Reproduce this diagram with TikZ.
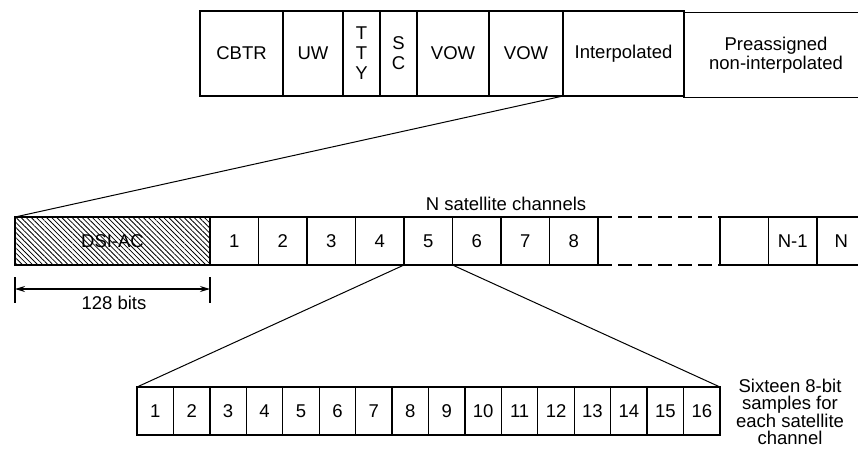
\documentclass[tikz,border=0pt]{standalone}
\usepackage{fontspec}
\setmainfont{Liberation Sans}
\usetikzlibrary{patterns.meta,arrows.meta}
\begin{document}
\begin{tikzpicture}[x=1pt,y=-1pt,
  font=\fontsize{18.5}{20}\selectfont,
  cell/.style={draw, line width=1.3pt, inner sep=0pt, outer sep=0pt, align=center},
  conn/.style={line width=1pt},
  dimline/.style={line width=1.1pt, {Stealth[length=10pt,width=6pt]}-{Stealth[length=10pt,width=6pt]}},
  lbl/.style={inner sep=0pt, align=center}]
\useasboundingbox (0,0) rectangle (858,451);
\clip (0,0) rectangle (858,451);
% top row
\begin{scope}[every node/.append style={cell, minimum height=85}]
\node[minimum width=83] (cbtr) at (241.5,53.5) {CBTR};
\node[minimum width=60] (uw) at (313,53.5) {UW};
\node[minimum width=37, font=\fontsize{18.5}{20}\selectfont] (tty) at (361.5,53.5) {T\\T\\Y};
\node[minimum width=37, font=\fontsize{18.5}{20}\selectfont] (sc) at (398.5,53.5) {S\\C};
\node[minimum width=72] (vow1) at (453,53.5) {VOW};
\node[minimum width=74] (vow2) at (526,53.5) {VOW};
\node[minimum width=121] (interp) at (623.5,53.5) {Interpolated};
\node[minimum width=184, font=\fontsize{18.5}{19}\selectfont] (pre) at (776,55) {Preassigned\\non-interpolated};
\end{scope}
% middle row
\node[cell, minimum width=195, minimum height=48,
  pattern={Lines[angle=-45,distance=3.6pt,line width=0.8pt]}] (dsi) at (112.5,241) {DSI-AC};
\foreach \i in {1,...,8}
  \node[cell, minimum width=48.5, minimum height=48] (c\i) at ({234.25+(\i-1)*48.5},241) {\i};
\node[cell, minimum width=48.5, minimum height=48] (ce) at (744.25,241) {};
\node[cell, minimum width=48.5, minimum height=48] (cn1) at (792.75,241) {N-1};
\node[cell, minimum width=48.5, minimum height=48] (cn) at (841.25,241) {N};
\draw[line width=1.3pt, dash pattern=on 14pt off 6pt] (c8.north east) -- (ce.north west);
\draw[line width=1.3pt, dash pattern=on 14pt off 6pt] (c8.south east) -- (ce.south west);
\node[lbl] (nsat) at (506,204) {N satellite channels};
% bottom row
\foreach \i in {1,...,16}
  \node[cell, minimum width=36.4375, minimum height=48] (s\i) at ({137+(\i-0.5)*36.4375},411) {\i};
\node[lbl, font=\fontsize{18.5}{17}\selectfont] (sixteen) at (790,412) {Sixteen 8-bit\\samples for\\each satellite\\channel};
% connectors
\draw[conn] (interp.south west) -- (dsi.north west);
\draw[conn] (c5.south west) -- (s1.north west);
\draw[conn] (c5.south east) -- (s16.north east);
% dimension
\coordinate (t1a) at (15,277); \coordinate (t1b) at (15,303);
\coordinate (t2a) at (210,277); \coordinate (t2b) at (210,303);
\coordinate (d1) at (15,289); \coordinate (d2) at (210,289);
\draw[line width=1.1pt] (t1a) -- (t1b);
\draw[line width=1.1pt] (t2a) -- (t2b);
\draw[dimline] (d1) -- (d2);
\node[lbl] (bits) at (114,303) {128 bits};
\end{tikzpicture}
\end{document}
